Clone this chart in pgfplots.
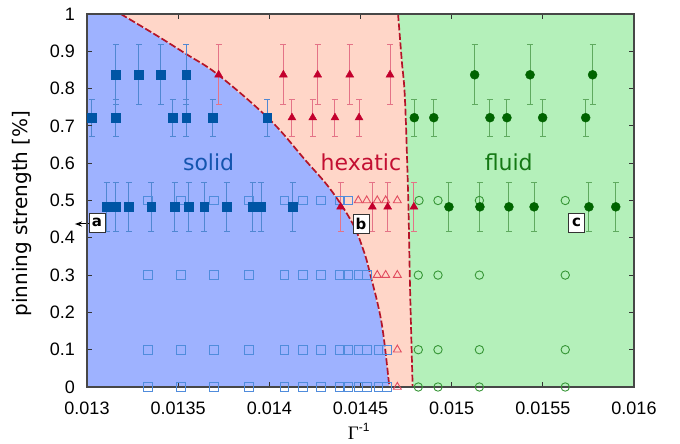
\documentclass[border=0pt]{standalone}
\usepackage{fontspec}
\setmainfont{DejaVu Sans}
\newfontfamily\arialf{Liberation Sans}
\newfontfamily\timesf{Liberation Serif}
\usepackage{pgfplots}
\pgfplotsset{compat=1.18}
\usetikzlibrary{arrows.meta}
\definecolor{bfill}{RGB}{158,178,255}
\definecolor{rfill}{RGB}{255,214,200}
\definecolor{gfill}{RGB}{180,240,186}
\definecolor{bmark}{RGB}{0,85,165}
\definecolor{berr}{RGB}{80,135,210}
\definecolor{rmark}{RGB}{195,0,45}
\definecolor{rerr}{RGB}{228,115,135}
\definecolor{gmark}{RGB}{0,100,0}
\definecolor{gerr}{RGB}{95,170,95}
\definecolor{bopen}{RGB}{80,140,220}
\definecolor{ropen}{RGB}{225,75,95}
\definecolor{gopen}{RGB}{55,150,55}
\definecolor{bound}{RGB}{180,20,40}
\definecolor{tsolid}{RGB}{20,85,175}
\definecolor{thex}{RGB}{195,15,50}
\definecolor{tfluid}{RGB}{20,120,20}
\begin{document}
\begin{tikzpicture}
\begin{axis}[
  at={(0,0)}, anchor=south west,
  scale only axis, width=547pt, height=373pt,
  xmin=0.013, xmax=0.016, ymin=0, ymax=1,
  xtick={0.013,0.0135,0.014,0.0145,0.015,0.0155,0.016},
  xticklabels={0.013,0.0135,0.014,0.0145,0.015,0.0155,0.016},
  ytick={0,0.1,0.2,0.3,0.4,0.5,0.6,0.7,0.8,0.9,1},
  yticklabels={0,0.1,0.2,0.3,0.4,0.5,0.6,0.7,0.8,0.9,1},
  scaled ticks=false,
  tick align=inside, major tick length=5pt,
  tick style={color=black!80, line width=0.8pt},
  axis line style={color=black!72, line width=1.2pt},
  axis on top, clip=false,
  tick label style={font=\arialf\fontsize{18}{18}\selectfont, inner sep=0pt},
  xticklabel style={anchor=center, yshift=-21pt},
  yticklabel style={anchor=east, xshift=-12pt},
  ylabel={pinning strength [\%]},
  ylabel style={at={(axis description cs:-0.119,0.465)}, anchor=center, rotate=0, font=\fontsize{20}{20}\selectfont},
  xlabel={{\timesf\fontsize{19}{19}\selectfont Γ}\raisebox{7.5pt}{\arialf\fontsize{12}{12}\selectfont -1}},
  xlabel style={at={(axis description cs:0.4967,-0.140)}, anchor=base, inner sep=0pt},
]
% regions
\addplot[draw=none, fill=bfill] coordinates {
 (0.013,0) (0.013,1) (0.013185,1) (0.01337,0.946) (0.013543,0.893) (0.013722,0.836)
 (0.014004,0.716) (0.014196,0.609) (0.014335,0.53) (0.014455,0.44) (0.014516,0.367)
 (0.014552,0.305) (0.014616,0.171) (0.014658,0)} -- cycle;
\addplot[draw=none, fill=rfill] coordinates {
 (0.013185,1) (0.014706,1) (0.014726,0.877) (0.014744,0.77) (0.014762,0.5) (0.014772,0.26) (0.014786,0)
 (0.014658,0) (0.014616,0.171) (0.014552,0.305) (0.014516,0.367) (0.014455,0.44) (0.014335,0.53)
 (0.014196,0.609) (0.014004,0.716) (0.013722,0.836) (0.013543,0.893) (0.01337,0.946)} -- cycle;
\addplot[draw=none, fill=gfill] coordinates {
 (0.014706,1) (0.016,1) (0.016,0) (0.014786,0) (0.014772,0.26) (0.014762,0.5) (0.014744,0.77) (0.014726,0.877)} -- cycle;
% boundaries
\addplot[color=bound, line width=1.7pt, dash pattern=on 7pt off 2.5pt, smooth, tension=0.6] coordinates {
 (0.013185,1) (0.01337,0.946) (0.013543,0.893) (0.013722,0.836)
 (0.014004,0.716) (0.014196,0.609) (0.014335,0.53) (0.014455,0.44) (0.014516,0.367)
 (0.014552,0.305) (0.014616,0.171) (0.014658,0)};
\addplot[color=bound, line width=1.7pt] coordinates {(0.014616,1) (0.014706,1)};
\addplot[color=bound, line width=1.7pt, dash pattern=on 7pt off 2.5pt, smooth, tension=0.6] coordinates {
 (0.014706,1) (0.014726,0.877) (0.014744,0.77) (0.014762,0.5) (0.014772,0.26) (0.014786,0)};
% open markers
\addplot[only marks, mark=square, mark size=4.3pt, color=bopen, line width=0.9pt] coordinates {
 (0.013333,0.5) (0.013514,0.5) (0.013697,0.5) (0.013887,0.5) (0.014082,0.5) (0.014183,0.5) (0.014283,0.5) (0.014384,0.5) (0.014433,0.5)
 (0.013333,0.3) (0.013514,0.3) (0.013697,0.3) (0.013887,0.3) (0.014082,0.3) (0.014183,0.3) (0.014283,0.3) (0.014384,0.3) (0.014433,0.3) (0.014488,0.3) (0.014537,0.3)
 (0.013333,0.1) (0.013514,0.1) (0.013697,0.1) (0.013887,0.1) (0.014082,0.1) (0.014183,0.1) (0.014283,0.1) (0.014384,0.1) (0.014433,0.1) (0.014488,0.1) (0.014537,0.1) (0.014598,0.1) (0.014644,0.1)
 (0.013333,0) (0.013514,0) (0.013697,0) (0.013887,0) (0.014082,0) (0.014183,0) (0.014283,0) (0.014384,0) (0.014433,0) (0.014488,0) (0.014537,0) (0.014598,0) (0.014644,0)};
\addplot[only marks, mark=triangle, mark size=4.6pt, color=ropen, line width=0.9pt] coordinates {
 (0.014488,0.5) (0.014534,0.5) (0.014592,0.5) (0.014638,0.5) (0.014702,0.5)
 (0.014592,0.3) (0.014638,0.3) (0.014702,0.3)
 (0.014702,0.1) (0.014702,0)};
\addplot[only marks, mark=o, mark size=4.2pt, color=gopen, line width=0.9pt] coordinates {
 (0.014821,0.5) (0.014925,0.5) (0.015152,0.5) (0.015623,0.5)
 (0.014817,0.3) (0.014925,0.3) (0.015152,0.3) (0.015623,0.3)
 (0.014817,0.1) (0.014925,0.1) (0.015152,0.1) (0.015623,0.1)
 (0.014817,0) (0.014925,0) (0.015152,0) (0.015623,0)};
% filled markers with error bars
\addplot[only marks, mark=square*, mark size=4.3pt, color=bmark,
  error bars/.cd, y dir=both, y explicit,
  error bar style={color=berr, line width=1pt},
  error mark options={rotate=90, mark size=3pt, color=berr, line width=1pt}] coordinates {
 (0.013159,0.837) +- (0,0.08) (0.013284,0.837) +- (0,0.08) (0.013404,0.837) +- (0,0.08) (0.013543,0.837) +- (0,0.08)
 (0.013026,0.722) +- (0,0.05) (0.013159,0.722) +- (0,0.05) (0.013470,0.722) +- (0,0.05) (0.013543,0.722) +- (0,0.05) (0.013691,0.722) +- (0,0.05) (0.013989,0.722) +- (0,0.05)
 (0.013108,0.483) +- (0,0.066) (0.013159,0.483) +- (0,0.066) (0.013229,0.483) +- (0,0.066) (0.013353,0.483) +- (0,0.066) (0.013481,0.483) +- (0,0.066) (0.013558,0.483) +- (0,0.066)
 (0.013642,0.483) +- (0,0.066) (0.013766,0.483) +- (0,0.066) (0.013909,0.483) +- (0,0.066) (0.013956,0.483) +- (0,0.066) (0.014128,0.483) +- (0,0.066)};
\addplot[only marks, mark=triangle*, mark size=4.6pt, color=rmark,
  error bars/.cd, y dir=both, y explicit,
  error bar style={color=rerr, line width=1pt},
  error mark options={rotate=90, mark size=3pt, color=rerr, line width=1pt}] coordinates {
 (0.013722,0.837) +- (0,0.08) (0.014077,0.837) +- (0,0.08) (0.014265,0.837) +- (0,0.08) (0.014441,0.837) +- (0,0.08) (0.014662,0.837) +- (0,0.08)
 (0.014124,0.722) +- (0,0.05) (0.014238,0.722) +- (0,0.05) (0.014360,0.722) +- (0,0.05) (0.014492,0.722) +- (0,0.05)
 (0.014391,0.483) +- (0,0.066) (0.014565,0.483) +- (0,0.066) (0.014649,0.483) +- (0,0.066) (0.014793,0.483) +- (0,0.066)};
\addplot[only marks, mark=*, mark size=4.5pt, color=gmark,
  error bars/.cd, y dir=both, y explicit,
  error bar style={color=gerr, line width=1pt},
  error mark options={rotate=90, mark size=3pt, color=gerr, line width=1pt}] coordinates {
 (0.015126,0.837) +- (0,0.08) (0.015430,0.837) +- (0,0.08) (0.015773,0.837) +- (0,0.08)
 (0.014795,0.722) +- (0,0.05) (0.014902,0.722) +- (0,0.05) (0.015210,0.722) +- (0,0.05) (0.015303,0.722) +- (0,0.05) (0.015499,0.722) +- (0,0.05) (0.015735,0.722) +- (0,0.05)
 (0.014985,0.483) +- (0,0.066) (0.015155,0.483) +- (0,0.066) (0.015314,0.483) +- (0,0.066) (0.015452,0.483) +- (0,0.066) (0.015753,0.483) +- (0,0.066) (0.015900,0.483) +- (0,0.066)};
% region labels
\node[anchor=base, font=\fontsize{22}{22}\selectfont, text=tsolid] at (axis cs:0.013667,0.58) {solid};
\node[anchor=base, font=\fontsize{22}{22}\selectfont, text=thex] at (axis cs:0.014502,0.58) {hexatic};
\node[anchor=base, font=\fontsize{22}{22}\selectfont, text=tfluid] at (axis cs:0.015313,0.58) {fluid};
% boxed labels
\draw[-{Stealth[length=7pt,width=5pt]}, line width=1pt, black] (axis cs:0.013011,0.437) -- (axis cs:0.012934,0.437);
\node[draw=black!80, fill=white, line width=1pt, inner sep=0pt, minimum width=16pt, minimum height=19pt, font=\bfseries\fontsize{15}{15}\selectfont] at (axis cs:0.013055,0.44) {a};
\node[draw=black!80, fill=white, line width=1pt, inner sep=0pt, minimum width=16pt, minimum height=19pt, font=\bfseries\fontsize{15}{15}\selectfont] at (axis cs:0.014503,0.438) {b};
\node[draw=black!80, fill=white, line width=1pt, inner sep=0pt, minimum width=16pt, minimum height=19pt, font=\bfseries\fontsize{15}{15}\selectfont] at (axis cs:0.015685,0.44) {c};
\end{axis}
\pgfresetboundingbox
\path[use as bounding box] (-87pt,-57pt) rectangle (593pt,387pt);
\end{tikzpicture}
\end{document}
